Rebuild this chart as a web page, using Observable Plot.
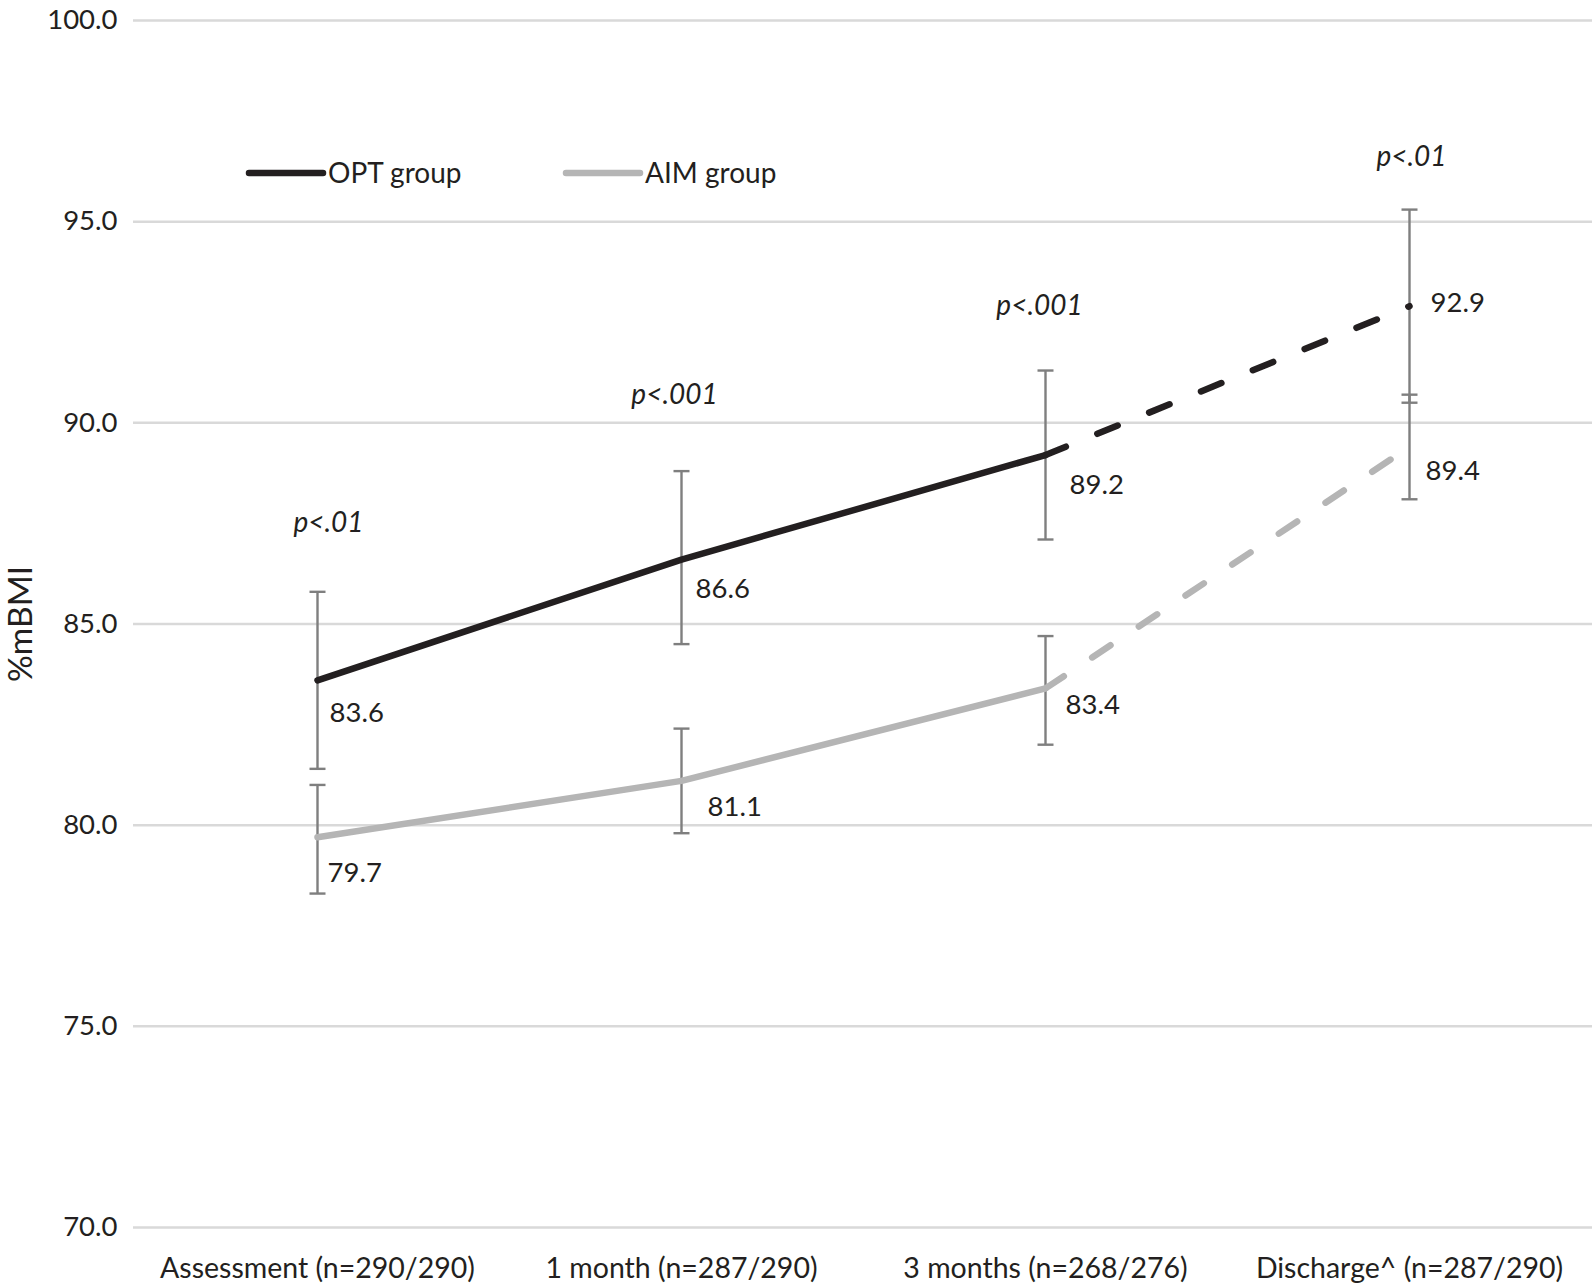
<!DOCTYPE html>
<html>
<head>
<meta charset="utf-8">
<script src="https://cdn.jsdelivr.net/npm/d3@7"></script>
<script src="https://cdn.jsdelivr.net/npm/@observablehq/plot@0.6"></script>
<style>
  html, body { margin: 0; padding: 0; background: #ffffff; }
  #chart svg { display: block; }
</style>
</head>
<body>
<div id="chart"></div>
<script>
// ---- data ----
const categories = ["Assessment (n=290/290)", "1 month (n=287/290)", "3 months (n=268/276)", "Discharge^ (n=287/290)"];
const optMean = [83.6, 86.6, 89.2, 92.9];
const optLow  = [81.4, 84.5, 87.1, 90.5];
const optHigh = [85.8, 88.8, 91.3, 95.3];
const aimMean = [79.7, 81.1, 83.4, 89.4];
const aimLow  = [78.3, 79.8, 82.0, 88.1];
const aimHigh = [81.0, 82.4, 84.7, 90.7];
const pValues = ["p<.01", "p<.001", "p<.001", "p<.01"];
const pLabelY = [87.5, 90.7, 92.9, 96.6];
const yTicks = [70, 75, 80, 85, 90, 95, 100];
const seriesNames = ["OPT group", "AIM group"];

// ---- styling / layout ----
const FONT = "Lato, 'Open Sans', sans-serif";
const optColor = "#231f20";
const aimColor = "#b5b5b5";
const errColor = "#7f7f7f";
const optLabelOffsets = [[12, 33], [14, 29.5], [24, 30], [21, -3]];
const aimLabelOffsets = [[10, 36], [26, 26], [20, 17], [16, 24]];
const pLabelDx = [11, -7, -6, 2];

const opt = categories.map((c, i) => ({cat: c, mean: optMean[i], lo: optLow[i], hi: optHigh[i], i}));
const aim = categories.map((c, i) => ({cat: c, mean: aimMean[i], lo: aimLow[i], hi: aimHigh[i], i}));
const pData = categories.map((c, i) => ({cat: c, p: pValues[i], y: pLabelY[i]}));

const capSymbol = {draw(ctx) { ctx.moveTo(-8, 0); ctx.lineTo(8, 0); }};

function errorBars(data) {
  return [
    Plot.ruleX(data, {x: "cat", y1: "lo", y2: "hi", stroke: errColor, strokeWidth: 2.4}),
    Plot.dot(data, {x: "cat", y: "hi", symbol: capSymbol, stroke: errColor, strokeWidth: 2.4, fill: "none"}),
    Plot.dot(data, {x: "cat", y: "lo", symbol: capSymbol, stroke: errColor, strokeWidth: 2.4, fill: "none"})
  ];
}

function seriesLines(data, color) {
  return [
    Plot.line(data.slice(0, 3), {x: "cat", y: "mean", stroke: color, strokeWidth: 6.5, strokeLinecap: "round", strokeLinejoin: "round"}),
    Plot.line(data.slice(2, 4), {x: "cat", y: "mean", stroke: color, strokeWidth: 6.5, strokeLinecap: "round", strokeDasharray: "22,34"})
  ];
}

function valueLabels(data, offsets) {
  return data.map((d, i) => Plot.text([d], {
    x: "cat", y: "mean", text: (r) => r.mean.toFixed(1),
    textAnchor: "start", lineAnchor: "middle",
    dx: offsets[i][0], dy: offsets[i][1],
    fontSize: 27.5, fill: "#231f20", fontFamily: FONT
  }));
}

function pLabels() {
  return pData.map((d, i) => Plot.text([d], {
    x: "cat", y: "y", text: "p", dx: pLabelDx[i],
    fontStyle: "italic", fontSize: 28, fill: "#231f20", fontFamily: FONT
  }));
}

function legend() {
  const g = d3.create("svg:g").attr("font-family", FONT).attr("font-size", 28).attr("fill", "#231f20").attr("text-anchor", "start");
  const items = [
    {name: seriesNames[0], color: optColor, x: 249},
    {name: seriesNames[1], color: aimColor, x: 566}
  ];
  for (const it of items) {
    g.append("line").attr("x1", it.x).attr("x2", it.x + 74).attr("y1", 173).attr("y2", 173)
      .attr("stroke", it.color).attr("stroke-width", 6.5).attr("stroke-linecap", "round");
    g.append("text").attr("x", it.x + 79).attr("y", 173).attr("dy", "0.35em").text(it.name);
  }
  return g.node();
}

const chart = Plot.plot({
  width: 1594,
  height: 1284,
  marginLeft: 133,
  marginRight: 2,
  marginTop: 20,
  marginBottom: 57,
  style: {fontFamily: FONT, background: "#ffffff", color: "#231f20"},
  x: {type: "point", domain: categories, padding: 0.5, align: 0.5, label: null},
  y: {domain: [70, 100], label: null},
  marks: [
    Plot.ruleY(yTicks, {stroke: "#d9d9d9", strokeWidth: 2.5}),
    Plot.axisY({ticks: yTicks, tickFormat: (d) => d.toFixed(1), tickSize: 0, tickPadding: 16, fontSize: 27.5, label: null, fill: "#231f20"}),
    Plot.axisX({tickSize: 0, tickPadding: 30, fontSize: 28.5, label: null, fill: "#231f20"}),
    Plot.text(["%mBMI"], {frameAnchor: "left", textAnchor: "middle", lineAnchor: "middle", dx: -112, rotate: -90, fontSize: 33.5, fill: "#231f20", fontFamily: FONT}),
    ...errorBars(opt),
    ...errorBars(aim),
    ...seriesLines(aim, aimColor),
    ...seriesLines(opt, optColor),
    ...valueLabels(opt, optLabelOffsets),
    ...valueLabels(aim, aimLabelOffsets),
    ...pLabels(),
    legend
  ]
});
document.getElementById("chart").appendChild(chart);
</script>
</body>
</html>
